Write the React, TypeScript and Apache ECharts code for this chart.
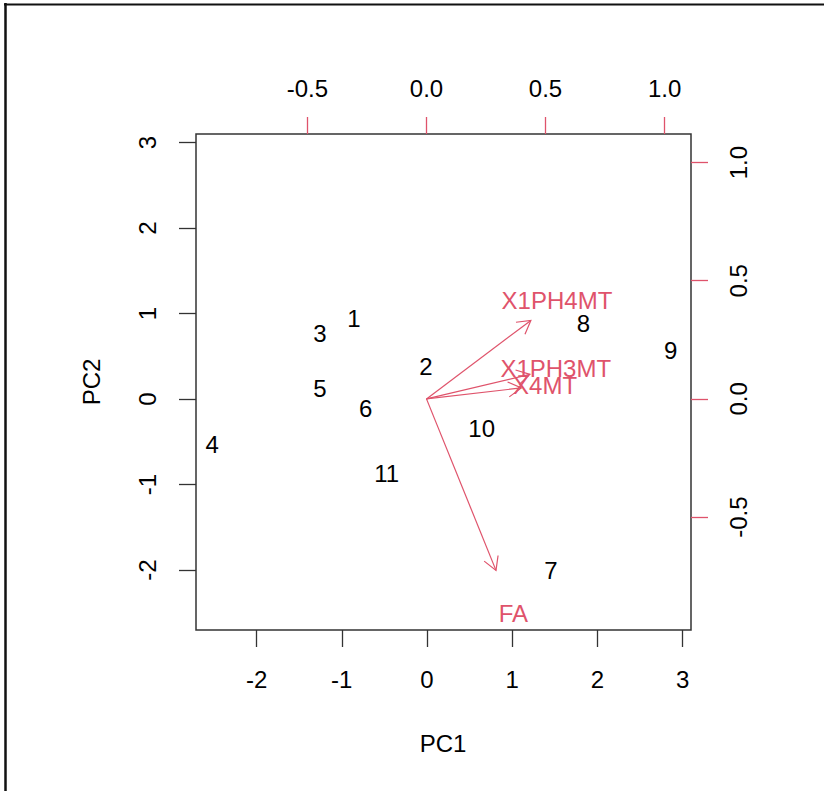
import React, { useEffect, useRef } from "react";
import * as echarts from "echarts";

const obsNames = ["1", "2", "3", "4", "5", "6", "7", "8", "9", "10", "11"];
const pc1 = [-0.857, -0.012, -1.256, -2.521, -1.256, -0.719, 1.455, 1.835, 2.86, 0.642, -0.473];
const pc2 = [0.944, 0.378, 0.768, -0.538, 0.125, -0.109, -2.008, 0.877, 0.565, -0.343, -0.869];

const loadNames = ["X1PH4MT", "X1PH3MT", "X4MT", "FA"];
const load1 = [0.548, 0.543, 0.498, 0.365];
const load2 = [0.415, 0.13, 0.058, -0.907];

const bottomTicks = [-2, -1, 0, 1, 2, 3];
const leftTicks = [-2, -1, 0, 1, 2, 3];
const topTicks = [-0.5, 0, 0.5, 1];
const rightTicks = [-0.5, 0, 0.5, 1];

const PINK = "#DF536B";
const FONT = "Liberation Sans";
const FS = 24;

export default function App() {
  const ref = useRef<HTMLDivElement>(null);
  useEffect(() => {
    if (!ref.current) return;
    const chart = echarts.init(ref.current, null, { renderer: "svg" });
    const axBase = (ticks: number[], color: string, fmt: (v: number) => string, margin: number, rotate: number) => ({
      type: "value",
      gridIndex: 0,
      splitLine: { show: false },
      axisLine: { show: false, onZero: false },
      axisTick: { show: true, inside: false, length: 17, customValues: ticks, lineStyle: { color, width: 1.3 } },
      axisLabel: {
        show: true,
        customValues: ticks,
        formatter: (v: number) => fmt(v),
        color: "#000",
        fontSize: FS,
        fontFamily: FONT,
        margin,
        rotate,
      },
    });
    const option: any = {
      animation: false,
      backgroundColor: "#fff",
      grid: {
        left: 196,
        top: 134,
        width: 495,
        height: 496,
        show: true,
        borderColor: "#333",
        borderWidth: 1.5,
        backgroundColor: "transparent",
      },
      xAxis: [
        { ...axBase(bottomTicks, "#333", (v) => String(v), 37, 0), position: "bottom", min: -2.711, max: 3.099 },
        { ...axBase(topTicks, PINK, (v) => v.toFixed(1), 34, 0), position: "top", min: -0.968, max: 1.111 },
      ],
      yAxis: [
        { ...axBase(leftTicks, "#333", (v) => String(v), 37, 90), position: "left", min: -2.702, max: 3.099 },
        { ...axBase(rightTicks, PINK, (v) => v.toFixed(1), 35, 90), position: "right", min: -0.978, max: 1.121 },
      ],
      graphic: [
        { type: "line", shape: { x1: 5.5, y1: 3, x2: 5.5, y2: 791 }, style: { stroke: "#111", lineWidth: 2.5 } },
        { type: "line", shape: { x1: 4, y1: 4.5, x2: 824, y2: 4.5 }, style: { stroke: "#111", lineWidth: 2 } },
        {
          type: "text",
          x: 443,
          y: 743,
          style: { text: "PC1", fontSize: FS, fontFamily: FONT, fill: "#000", align: "center", verticalAlign: "middle" },
        },
        {
          type: "text",
          x: 91,
          y: 382,
          rotation: Math.PI / 2,
          style: { text: "PC2", fontSize: FS, fontFamily: FONT, fill: "#000", align: "center", verticalAlign: "middle" },
        },
      ],
      series: [
        {
          type: "custom",
          xAxisIndex: 0,
          yAxisIndex: 0,
          clip: false,
          data: pc1.map((v, i) => [v, pc2[i]]),
          encode: { x: 0, y: 1 },
          renderItem: (params: any, api: any) => {
            const p = api.coord([api.value(0), api.value(1)]);
            return {
              type: "text",
              x: p[0],
              y: p[1],
              style: {
                text: obsNames[params.dataIndex],
                fontSize: FS,
                fontFamily: FONT,
                fill: "#000",
                align: "center",
                verticalAlign: "middle",
              },
            };
          },
        },
        {
          type: "custom",
          xAxisIndex: 1,
          yAxisIndex: 1,
          clip: false,
          data: load1.map((v, i) => [v, load2[i]]),
          encode: { x: 0, y: 1 },
          renderItem: (params: any, api: any) => {
            const x = api.value(0);
            const y = api.value(1);
            const o = api.coord([0, 0]);
            const t = api.coord([x * 0.8, y * 0.8]);
            const lab = api.coord([x, y]);
            const ang = Math.atan2(t[1] - o[1], t[0] - o[0]);
            const L = 15;
            const a = Math.PI / 6;
            const p1 = [t[0] - L * Math.cos(ang - a), t[1] - L * Math.sin(ang - a)];
            const p2 = [t[0] - L * Math.cos(ang + a), t[1] - L * Math.sin(ang + a)];
            return {
              type: "group",
              children: [
                { type: "line", shape: { x1: o[0], y1: o[1], x2: t[0], y2: t[1] }, style: { stroke: PINK, lineWidth: 1.2 } },
                { type: "polyline", shape: { points: [p1, t, p2] }, style: { stroke: PINK, fill: null, lineWidth: 1.2 } },
                {
                  type: "text",
                  x: lab[0],
                  y: lab[1],
                  style: {
                    text: loadNames[params.dataIndex],
                    fontSize: FS,
                    fontFamily: FONT,
                    fill: PINK,
                    align: "center",
                    verticalAlign: "middle",
                  },
                },
              ],
            };
          },
        },
      ],
    };
    chart.setOption(option);
    return () => chart.dispose();
  }, []);
  return <div ref={ref} style={{ position: "absolute", left: 0, top: 0, width: 824, height: 791 }} />;
}
